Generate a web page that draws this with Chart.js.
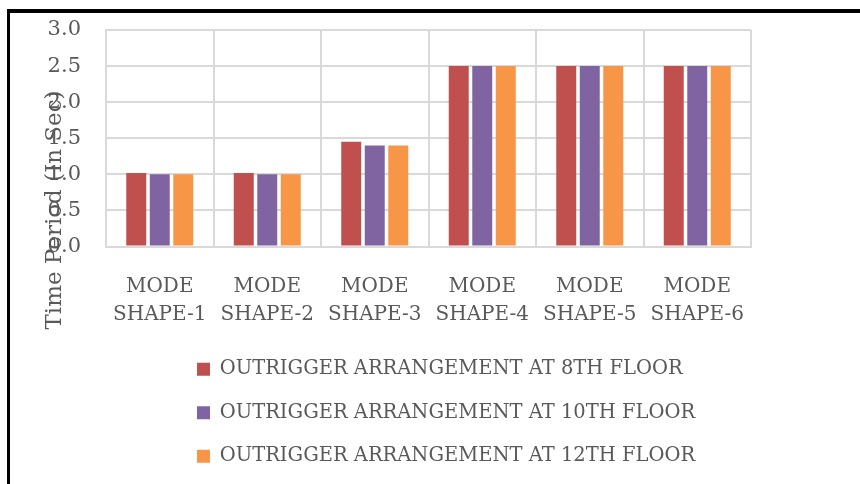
<!DOCTYPE html>
<html>
<head>
<meta charset="utf-8">
<script src="https://cdn.jsdelivr.net/npm/chart.js@4"></script>
<style>
    body { margin: 0; background: #fff; }
    #wrap { position: relative; width: 860px; height: 484px; overflow: hidden; }
    #frame {
        position: absolute; left: 7px; top: 9px; width: 900px; height: 500px;
        border-top: 4px solid #000; border-left: 3px solid #000;
    }
    canvas { position: absolute; left: 0; top: 0; }
</style>
</head>
<body>
<div id="wrap">
    <div id="frame"></div>
    <canvas id="chart" width="860" height="484"></canvas>
</div>
<script>
// Mode shapes on the x axis (two-line labels)
const modes = [
    ['MODE', 'SHAPE-1'], ['MODE', 'SHAPE-2'], ['MODE', 'SHAPE-3'],
    ['MODE', 'SHAPE-4'], ['MODE', 'SHAPE-5'], ['MODE', 'SHAPE-6']
];

// Time period (sec) per outrigger location
const floor8 = [1.02, 1.02, 1.45, 2.5, 2.5, 2.5];
const floor10 = [1.0, 1.0, 1.4, 2.5, 2.5, 2.5];
const floor12 = [1.0, 1.0, 1.4, 2.5, 2.5, 2.5];

const seriesNames = [
    'OUTRIGGER ARRANGEMENT AT 8TH FLOOR',
    'OUTRIGGER ARRANGEMENT AT 10TH FLOOR',
    'OUTRIGGER ARRANGEMENT AT 12TH FLOOR'
];

const yTicks = [0, 0.5, 1.0, 1.5, 2.0, 2.5, 3.0];
const yTitleText = 'Time Period (In Sec)';

const textColor = '#595959';
const gridColor = '#d9d9d9';
const serif = '"DejaVu Serif", serif';

// the axis title sits over the tick labels, lower than centre, like the original
const yTitle = {
    id: 'yTitle',
    afterDraw(chart) {
        const ctx = chart.ctx;
        ctx.save();
        ctx.translate(55, 210);
        ctx.rotate(-Math.PI / 2);
        ctx.font = '23px ' + serif;
        ctx.fillStyle = textColor;
        ctx.textAlign = 'center';
        ctx.textBaseline = 'middle';
        ctx.fillText(yTitleText, 0, 0);
        ctx.restore();
    }
};

// left-align the stacked legend rows under the plot
const legendShift = {
    id: 'legendShift',
    afterLayout(chart) {
        chart.legend.left = 173;
    }
};

const ctx = document.getElementById('chart').getContext('2d');
new Chart(ctx, {
    type: 'bar',
    data: {
        labels: modes,
        datasets: [
            { label: seriesNames[0], data: floor8, backgroundColor: '#C0504D' },
            { label: seriesNames[1], data: floor10, backgroundColor: '#8064A2' },
            { label: seriesNames[2], data: floor12, backgroundColor: '#F79646' }
        ]
    },
    options: {
        responsive: false,
        animation: false,
        devicePixelRatio: 1,
        datasets: {
            bar: { categoryPercentage: 0.656, barPercentage: 0.85, borderWidth: 0 }
        },
        layout: { padding: { top: 30, right: 109, bottom: 8, left: 0 } },
        scales: {
            x: {
                grid: { color: gridColor, lineWidth: 2, drawTicks: false },
                border: { color: gridColor, width: 2 },
                ticks: {
                    color: textColor,
                    padding: 26,
                    maxRotation: 0,
                    font: { family: serif, size: 20, lineHeight: 1.4 }
                },
                afterFit(scale) { scale.height = 89; }
            },
            y: {
                min: 0,
                max: 3,
                afterBuildTicks(scale) { scale.ticks = yTicks.map(v => ({ value: v })); },
                // invisible tick marks push the labels left without adding top padding
                grid: { color: gridColor, lineWidth: 2, drawTicks: true, tickLength: 20, tickColor: 'rgba(0,0,0,0)' },
                border: { color: gridColor, width: 2 },
                ticks: {
                    color: textColor,
                    padding: 5,
                    font: { family: serif, size: 21 },
                    callback: v => v.toFixed(1)
                },
                afterFit(scale) { scale.width = 106; }
            }
        },
        plugins: {
            legend: {
                position: 'bottom',
                align: 'start',
                labels: {
                    color: textColor,
                    boxWidth: 13,
                    boxHeight: 13,
                    padding: 24,
                    font: { family: serif, size: 19.5 }
                }
            },
            tooltip: { enabled: false }
        }
    },
    plugins: [yTitle, legendShift]
});
</script>
</body>
</html>
